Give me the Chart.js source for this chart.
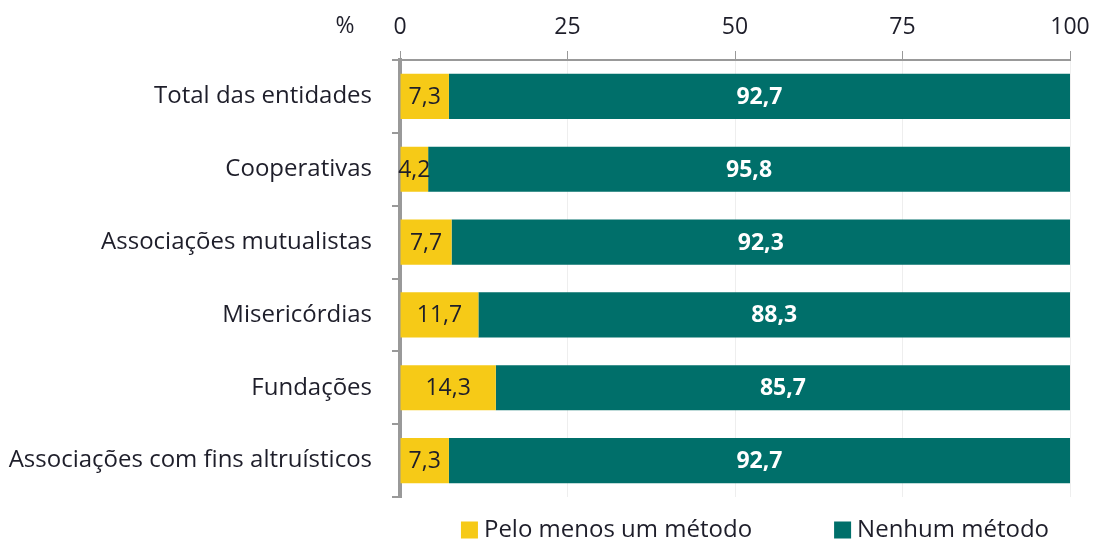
<!DOCTYPE html>
<html lang="pt">
<head>
<meta charset="utf-8">
<title>Métodos por tipo de entidade</title>
<script src="https://cdn.jsdelivr.net/npm/chart.js@4/dist/chart.umd.min.js"></script>
<style>
  html, body { margin: 0; padding: 0; background: #fff; }
  #wrap { width: 1100px; height: 544px; position: relative; }
</style>
</head>
<body>
<div id="wrap"><canvas id="chart"></canvas></div>
<script>
'use strict';

// ── Dados ──────────────────────────────────────────────────────────────
const categorias = [
  'Total das entidades',
  'Cooperativas',
  'Associações mutualistas',
  'Misericórdias',
  'Fundações',
  'Associações com fins altruísticos',
];
const peloMenosUm  = [7.3, 4.2, 7.7, 11.7, 14.3, 7.3];
const nenhumMetodo = [92.7, 95.8, 92.3, 88.3, 85.7, 92.7];
const xTicks       = [0, 25, 50, 75, 100];

// ── Tema ───────────────────────────────────────────────────────────────
const C = {
  amarelo: '#F6CA17',
  verde:   '#006F6A',
  eixo:    '#999999',
  grelha:  '#EEEEEE',
  texto:   '#1E1E2A',
};
const FONT = "'Open Sans', 'DejaVu Sans', sans-serif";
const FS   = 23;

const fmt = v => v.toFixed(1).replace('.', ',');

// ── Rótulos dos valores nas barras + símbolo "%" ───────────────────────
const labelsPlugin = {
  id: 'valueLabels',
  afterDatasetsDraw(chart) {
    const { ctx } = chart;
    ctx.save();
    ctx.textAlign = 'center';
    ctx.textBaseline = 'middle';
    chart.data.datasets.forEach((ds, di) => {
      const meta = chart.getDatasetMeta(di);
      meta.data.forEach((bar, i) => {
        const cx = (bar.x + bar.base) / 2;
        if (di === 0) {
          ctx.font = `${FS}px ${FONT}`;
          ctx.fillStyle = C.texto;
        } else {
          ctx.font = `bold ${FS}px ${FONT}`;
          ctx.fillStyle = '#FFFFFF';
        }
        ctx.fillText(fmt(ds.data[i]), cx, bar.y + 1);
      });
    });
    // "%" à esquerda dos rótulos do eixo
    const xs = chart.scales.x;
    ctx.font = `${FS}px ${FONT}`;
    ctx.fillStyle = C.texto;
    ctx.fillText('%', xs.left - 55, 26);
    ctx.restore();
  },
};

// ── Legenda desenhada à mão (espaçamento largo como no original) ───────
const legendPlugin = {
  id: 'legendaBaixo',
  afterDraw(chart) {
    const { ctx, chartArea } = chart;
    const box = 17, gapTxt = 6, gapItem = 82;
    ctx.save();
    ctx.font = `24px ${FONT}`;
    ctx.textBaseline = 'middle';
    ctx.textAlign = 'left';
    const items = chart.data.datasets.map(ds => ({
      text: ds.label,
      color: ds.backgroundColor,
      w: ctx.measureText(ds.label).width,
    }));
    const total = items.reduce((s, it) => s + box + gapTxt + it.w, 0) + gapItem * (items.length - 1);
    let x = (chartArea.left + chartArea.right) / 2 + 20 - total / 2;
    const y = 530;
    items.forEach(it => {
      ctx.fillStyle = it.color;
      ctx.fillRect(x, y - box / 2, box, box);
      x += box + gapTxt;
      ctx.fillStyle = C.texto;
      ctx.fillText(it.text, x, y);
      x += it.w + gapItem;
    });
    ctx.restore();
  },
};

new Chart(document.getElementById('chart'), {
  type: 'bar',
  data: {
    labels: categorias,
    datasets: [
      {
        label: 'Pelo menos um método',
        data: peloMenosUm,
        backgroundColor: C.amarelo,
        categoryPercentage: 1,
        barPercentage: 0.62,
      },
      {
        label: 'Nenhum método',
        data: nenhumMetodo,
        backgroundColor: C.verde,
        categoryPercentage: 1,
        barPercentage: 0.62,
      },
    ],
  },
  options: {
    indexAxis: 'y',
    responsive: true,
    maintainAspectRatio: false,
    animation: false,
    layout: { padding: { left: 8, right: 30, top: 0, bottom: 47 } },
    plugins: {
      legend: { display: false },
      tooltip: { enabled: false },
    },
    scales: {
      x: {
        position: 'top',
        stacked: true,
        min: 0,
        max: 100,
        afterBuildTicks(scale) {
          scale.ticks = xTicks.map(v => ({ value: v }));
        },
        afterFit(scale) { scale.height = 60; },
        ticks: {
          color: C.texto,
          font: { family: FONT, size: FS },
          padding: 10,
        },
        grid: {
          color: C.grelha,
          tickColor: C.eixo,
          tickLength: 9,
          lineWidth: 1,
        },
        border: { color: C.eixo, width: 2 },
      },
      y: {
        stacked: true,
        afterFit(scale) { scale.width = 392; },
        ticks: {
          color: C.texto,
          font: { family: FONT, size: 24 },
          padding: 20,
        },
        grid: {
          offset: true,
          drawOnChartArea: false,
          tickColor: C.eixo,
          tickLength: 8,
          lineWidth: 2,
        },
        border: { color: C.eixo, width: 4 },
      },
    },
  },
  plugins: [labelsPlugin, legendPlugin],
});
</script>
</body>
</html>
